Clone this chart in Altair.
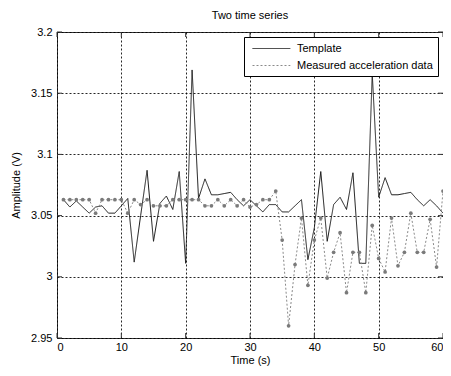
import altair as alt
import pandas as pd

# ---- data ----
time_s = list(range(1, 61))
template = [3.063, 3.057, 3.062, 3.057, 3.052, 3.057, 3.058, 3.052, 3.052, 3.058,
            3.064, 3.012, 3.050, 3.087, 3.029, 3.060, 3.066, 3.055, 3.086, 3.011,
            3.169, 3.064, 3.080, 3.067, 3.067, 3.068, 3.069, 3.063, 3.058, 3.063,
            3.058, 3.053, 3.059, 3.059, 3.053, 3.053, 3.058, 3.063, 3.014, 3.040,
            3.086, 3.029, 3.059, 3.065, 3.055, 3.085, 3.011, 3.011, 3.166, 3.065,
            3.081, 3.067, 3.067, 3.068, 3.069, 3.063, 3.058, 3.063, 3.058, 3.052]
measured = [3.063, 3.063, 3.063, 3.063, 3.063, 3.052, 3.063, 3.063, 3.063, 3.063,
            3.052, 3.063, 3.059, 3.063, 3.058, 3.058, 3.058, 3.063, 3.063, 3.063,
            3.063, 3.063, 3.058, 3.058, 3.063, 3.058, 3.063, 3.058, 3.063, 3.057,
            3.059, 3.063, 3.063, 3.070, 3.030, 2.960, 3.010, 3.048, 2.993, 3.030,
            3.048, 2.999, 3.020, 3.036, 2.987, 3.020, 3.020, 2.987, 3.042, 3.015,
            3.004, 3.048, 3.009, 3.020, 3.052, 3.020, 3.020, 3.047, 3.008, 3.070]
series_names = ["Template", "Measured acceleration data"]
x_ticks = [0, 10, 20, 30, 40, 50, 60]
y_ticks = [2.95, 3.0, 3.05, 3.1, 3.15, 3.2]

rows = []
for t, v in zip(time_s, template):
    rows.append({"t": t, "value": v, "series": series_names[0]})
for t, v in zip(time_s, measured):
    rows.append({"t": t, "value": v, "series": series_names[1]})
df = pd.DataFrame(rows)
df_meas = df[df["series"] == series_names[1]]
xt = pd.DataFrame({"t": x_ticks})
yt = pd.DataFrame({"value": y_ticks})

W, H = 386, 306
FONT = "Liberation Sans"

xscale = alt.Scale(domain=[0, 60], nice=False, zero=False)
yscale = alt.Scale(domain=[2.95, 3.2], nice=False, zero=False)

xaxis = alt.Axis(values=x_ticks, title="Time (s)", grid=True, ticks=False, domain=False,
                 labelPadding=3, titlePadding=2, format="d")
yaxis = alt.Axis(values=y_ticks, title="Amplitude (V)", grid=True, ticks=False, domain=False,
                 labelPadding=5, titlePadding=9, format=".2~f")

SYM = "M-0.5,0H5.8"
legend_kw = dict(title=None, orient="none", legendX=187, legendY=5,
                 symbolType=SYM, symbolSize=144, symbolStrokeWidth=1,
                 strokeColor="#000000", fillColor="white", padding=5,
                 rowPadding=5, labelFontSize=11, labelFont=FONT,
                 labelColor="#000", labelOffset=35)

lines = alt.Chart(df).mark_line(strokeWidth=1, clip=True).encode(
    x=alt.X("t:Q", scale=xscale, axis=xaxis),
    y=alt.Y("value:Q", scale=yscale, axis=yaxis),
    color=alt.Color("series:N", sort=series_names,
                    scale=alt.Scale(domain=series_names, range=["#1a1a1a", "#8a8a8a"]),
                    legend=alt.Legend(**legend_kw)),
    strokeDash=alt.StrokeDash("series:N", sort=series_names,
                              scale=alt.Scale(domain=series_names, range=[[1, 0], [2, 2]]),
                              legend=alt.Legend(**legend_kw)),
)

points = alt.Chart(df_meas).mark_point(filled=True, shape="circle", size=14, color="#7a7a7a",
                                       opacity=1).encode(
    x=alt.X("t:Q", scale=xscale),
    y=alt.Y("value:Q", scale=yscale),
)

tick_b = alt.Chart(xt).mark_rule(color="#333", strokeWidth=1).encode(
    x=alt.X("t:Q", scale=xscale), y=alt.value(H), y2=alt.value(H - 5))
tick_t = alt.Chart(xt).mark_rule(color="#333", strokeWidth=1).encode(
    x=alt.X("t:Q", scale=xscale), y=alt.value(0), y2=alt.value(5))
tick_l = alt.Chart(yt).mark_rule(color="#333", strokeWidth=1).encode(
    y=alt.Y("value:Q", scale=yscale), x=alt.value(0), x2=alt.value(5))
tick_r = alt.Chart(yt).mark_rule(color="#333", strokeWidth=1).encode(
    y=alt.Y("value:Q", scale=yscale), x=alt.value(W), x2=alt.value(W - 5))

chart = alt.layer(tick_b, tick_t, tick_l, tick_r, lines, points).properties(
    width=W, height=H,
    title=alt.Title("Two time series", fontSize=11, fontWeight="normal", font=FONT,
                    color="#000", offset=5),
    padding={"left": 49, "top": 24, "right": 0, "bottom": 28},
    autosize=alt.AutoSizeParams(type="none"),
    background="white",
).configure_view(
    stroke="#333", strokeWidth=1
).configure_axis(
    gridColor="#000", gridDash=[2, 2], gridOpacity=0.85, gridWidth=1,
    labelFont=FONT, labelFontSize=11, labelColor="#000",
    titleFont=FONT, titleFontSize=11, titleFontWeight="normal", titleColor="#000",
)

chart.save("out.html", embed_options={"renderer": "svg", "actions": False})
